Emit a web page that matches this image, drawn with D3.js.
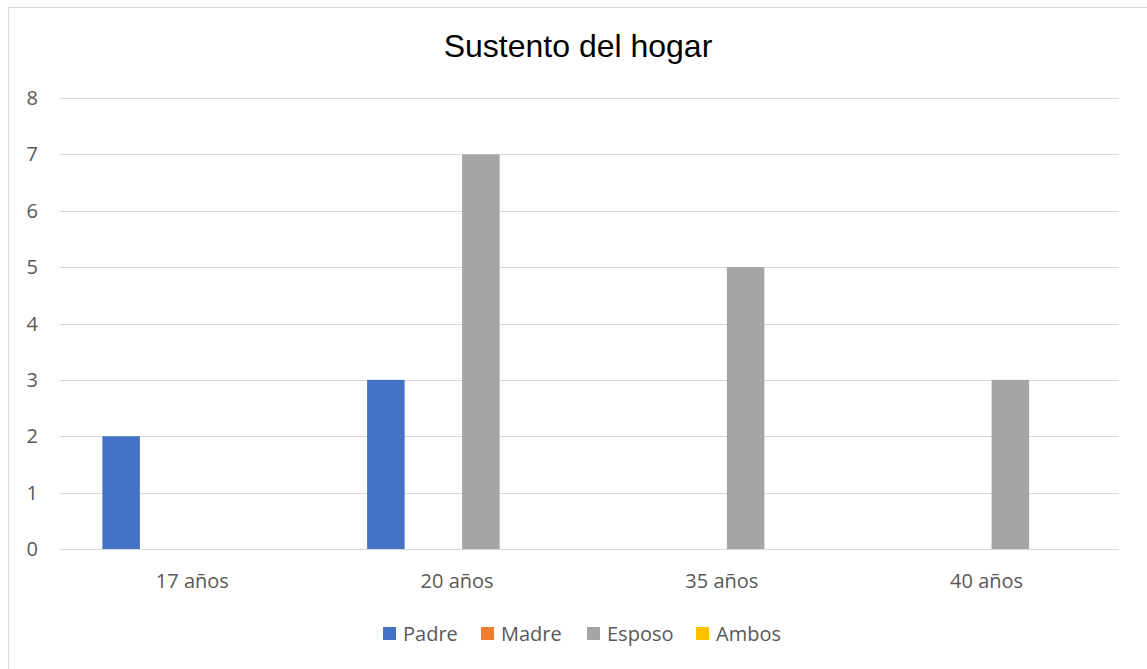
<!DOCTYPE html>
<html>
<head>
<meta charset="utf-8">
<script src="https://cdn.jsdelivr.net/npm/d3@7"></script>
<style>
  body { margin: 0; background: #fff; }
</style>
</head>
<body>
<div id="chart"></div>
<script>
// data
var categories = ["17 años", "20 años", "35 años", "40 años"];
var seriesNames = ["Padre", "Madre", "Esposo", "Ambos"];
var padre  = [2, 3, 0, 0];
var madre  = [0, 0, 0, 0];
var esposo = [0, 7, 5, 3];
var ambos  = [0, 0, 0, 0];
var yTicks = [0, 1, 2, 3, 4, 5, 6, 7, 8];
var colors = ["#4472c4", "#ed7d31", "#a5a5a5", "#ffc000"];

var seriesValues = [padre, madre, esposo, ambos];

var width = 1147,
    height = 669;
var margin = {left: 60, right: 28, top: 98, bottom: 120};
var labelFont = "'Open Sans', sans-serif";

var svg = d3.select("#chart").append("svg")
    .attr("width", width)
    .attr("height", height);

// chart border (only top/left visible in frame)
svg.append("rect")
    .attr("x", 8.5).attr("y", 7.5)
    .attr("width", width + 20).attr("height", height + 20)
    .attr("fill", "none")
    .attr("stroke", "#d9d9d9");

var x = d3.scaleBand()
    .domain(categories)
    .range([margin.left, width - margin.right]);

var y = d3.scaleLinear()
    .domain([0, 8])
    .range([height - margin.bottom, margin.top]);

// inner band for series: ~180px cluster inside each category
var xs = d3.scaleBand()
    .domain(seriesNames)
    .range([0, x.bandwidth() * 0.68])
    .paddingInner(0.21);

var clusterOffset = (x.bandwidth() - xs.range()[1]) / 2;

// gridlines
svg.append("g")
  .selectAll("line")
  .data(yTicks)
  .join("line")
    .attr("x1", margin.left)
    .attr("x2", width - margin.right)
    .attr("y1", function(d){ return Math.round(y(d)) + 0.5; })
    .attr("y2", function(d){ return Math.round(y(d)) + 0.5; })
    .attr("stroke", "#d9d9d9")
    .attr("stroke-width", 1);

// y labels
svg.append("g")
  .selectAll("text")
  .data(yTicks)
  .join("text")
    .attr("x", 38)
    .attr("y", function(d){ return y(d) + 7; })
    .attr("text-anchor", "end")
    .style("font-family", labelFont)
    .style("font-size", "20px")
    .style("fill", "#595959")
    .text(function(d){ return d; });

// bars
seriesValues.forEach(function(vals, si){
  svg.append("g")
    .attr("fill", colors[si])
    .selectAll("rect")
    .data(vals.map(function(v, i){ return {cat: categories[i], v: v}; }))
    .join("rect")
      .attr("x", function(d){ return x(d.cat) + clusterOffset + xs(seriesNames[si]); })
      .attr("width", xs.bandwidth())
      .attr("y", function(d){ return y(d.v); })
      .attr("height", function(d){ return y(0) - y(d.v); });
});

// x labels
svg.append("g")
  .selectAll("text")
  .data(categories)
  .join("text")
    .attr("x", function(d){ return x(d) + x.bandwidth() / 2; })
    .attr("y", 588)
    .attr("text-anchor", "middle")
    .style("font-family", labelFont)
    .style("font-size", "20px")
    .style("fill", "#595959")
    .text(function(d){ return d; });

// title
svg.append("text")
    .attr("x", 578)
    .attr("y", 57)
    .attr("text-anchor", "middle")
    .style("font-family", "'Liberation Sans', Arial, sans-serif")
    .style("font-size", "32px")
    .style("fill", "#000")
    .text("Sustento del hogar");

// legend
var legendX = [383, 481, 587, 696];
var legend = svg.append("g")
  .selectAll("g")
  .data(seriesNames)
  .join("g")
    .attr("transform", function(d, i){ return "translate(" + legendX[i] + ",627)"; });
legend.append("rect")
    .attr("width", 13).attr("height", 13)
    .attr("fill", function(d, i){ return colors[i]; });
legend.append("text")
    .attr("x", 20)
    .attr("y", 14)
    .style("font-family", labelFont)
    .style("font-size", "20px")
    .style("fill", "#595959")
    .text(function(d){ return d; });
</script>
</body>
</html>
